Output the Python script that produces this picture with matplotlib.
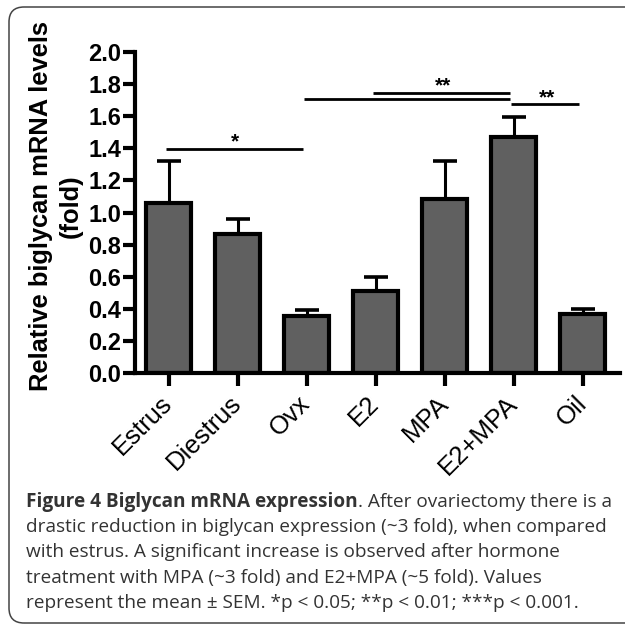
import matplotlib
matplotlib.use("Agg")
import matplotlib.pyplot as plt
from matplotlib.patches import FancyBboxPatch
import numpy as np

# values
groups = ["Estrus", "Diestrus", "Ovx", "E2", "MPA", "E2+MPA", "Oil"]
means = [1.06, 0.865, 0.355, 0.512, 1.085, 1.47, 0.366]
sems = [0.26, 0.097, 0.04, 0.088, 0.235, 0.126, 0.033]

# significance brackets: (start group, end group, height)
sig_lines = [(0, 2, 1.395), (2, 5, 1.706), (3, 5, 1.745), (5, 6, 1.672)]
sig_stars = [(0.96, 1.44, "*"), (3.98, 1.787, "**"), (5.48, 1.714, "**")]

caption_bold = "Figure 4 Biglycan mRNA expression"
caption_lines = [
    ". After ovariectomy there is a",
    "drastic reduction in biglycan expression (~3 fold), when compared",
    "with estrus. A significant increase is observed after hormone",
    "treatment with MPA (~3 fold) and E2+MPA (~5 fold). Values",
    "represent the mean \u00b1 SEM. *p < 0.05; **p < 0.01; ***p < 0.001.",
]

plt.rcParams['font.family'] = ['Liberation Sans', 'DejaVu Sans']

fig = plt.figure(figsize=(6.25, 6.25), dpi=100)
ax = fig.add_axes([0.216, 0.4027, 0.776, 0.5146])

x = np.arange(len(groups))
ax.bar(x, means, width=0.65, color="#606060", edgecolor="black", linewidth=3, zorder=2)
ax.errorbar(x, means, yerr=[np.zeros(len(sems)), sems], fmt="none", ecolor="black",
            elinewidth=2.2, capsize=8.5, capthick=2.6, zorder=1)

for a, b, h in sig_lines:
    # lines stop slightly short of the bar centres like in the reference
    ax.plot([a - 0.04, b - 0.05], [h, h], color="black", lw=2, solid_capstyle="butt", clip_on=False)
for sx, sy, s in sig_stars:
    ax.text(sx, sy, s, ha="center", va="center", fontsize=15, fontweight="bold")

ax.set_xlim(-0.487, 6.542)
ax.set_ylim(0, 2.0)
ax.set_yticks(np.arange(0, 2.01, 0.2))
ax.set_yticklabels(["%.1f" % v for v in np.arange(0, 2.01, 0.2)], fontsize=17, fontweight="bold")
ax.set_xticks(x)
ax.set_xticklabels(groups, fontsize=18.5, rotation=45, ha="right", va="center", rotation_mode="anchor")
ax.tick_params(axis="both", direction="out", length=9, width=3)
ax.tick_params(axis="y", pad=1)
ax.tick_params(axis="x", pad=10)
for side in ["top", "right"]:
    ax.spines[side].set_visible(False)
for side in ["left", "bottom"]:
    ax.spines[side].set_linewidth(3)
ax.set_ylabel("Relative biglycan mRNA levels\n(fold)", fontsize=18.4, fontweight="bold", linespacing=1.3)
ax.yaxis.set_label_coords(-0.108, 0.52)

# frame round the figure
frame = FancyBboxPatch((0.0144, 0.0032), 1.2, 0.9856, boxstyle="round,pad=0,rounding_size=0.024",
                       transform=fig.transFigure, facecolor="none", edgecolor="#444444", lw=1.1)
fig.patches.append(frame)

# caption
cap_font = ['Open Sans', 'DejaVu Sans']
cap_size = 13.7
cap_x = 26 / 625
y0 = 1 - 502 / 625
dy = 25.2 / 625
t = fig.text(cap_x, y0, caption_bold, fontsize=cap_size, family=cap_font, fontweight="bold",
             color="#333333", va="center")
fig.canvas.draw()
bb = t.get_window_extent(fig.canvas.get_renderer())
fig.text(bb.x1 / fig.bbox.width, y0, caption_lines[0], fontsize=cap_size, family=cap_font,
         color="#333333", va="center")
for i, line in enumerate(caption_lines[1:], start=1):
    fig.text(cap_x, y0 - i * dy, line, fontsize=cap_size, family=cap_font, color="#333333", va="center")

fig.savefig("out.png", dpi=100)
